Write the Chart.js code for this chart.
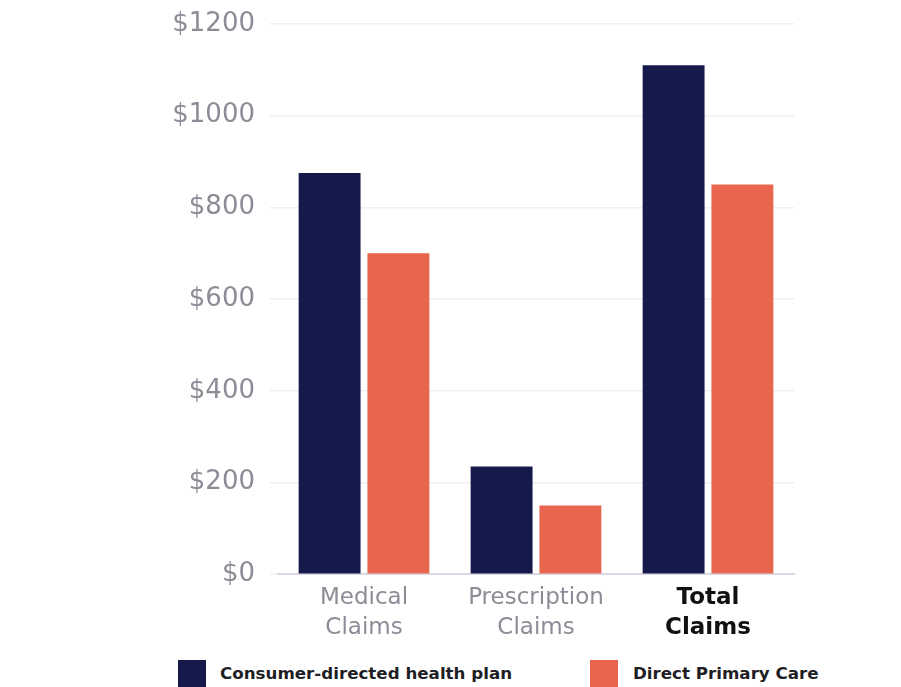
<!DOCTYPE html>
<html>
<head>
<meta charset="utf-8">
<script src="https://cdn.jsdelivr.net/npm/chart.js@4"></script>
<style>
  html, body { margin: 0; padding: 0; background: #fff; overflow: hidden; }
  #wrap { position: absolute; left: 0; top: 0; width: 901px; height: 660px; }
  #legend { position: absolute; left: 0; top: 660px; width: 901px; height: 40px; font-family: "DejaVu Sans", sans-serif; }
  .item { position: absolute; top: 0; height: 30px; }
  .box { position: absolute; left: 0; top: 0; width: 28px; height: 30px; }
  .txt { position: absolute; top: 3px; font-weight: bold; font-size: 16.7px; color: #1e1e24; white-space: nowrap; }
</style>
</head>
<body>
<div id="wrap"><canvas id="chart"></canvas></div>
<div id="legend"></div>
<script>
var categories = [['Medical', 'Claims'], ['Prescription', 'Claims'], ['Total', 'Claims']];
var seriesNames = ['Consumer-directed health plan', 'Direct Primary Care'];
var cdhpValues = [875, 235, 1110];
var dpcValues = [700, 150, 850];
var yTicks = [0, 200, 400, 600, 800, 1000, 1200];

var navy = '#151a4b';
var coral = '#e7664d';

var ctx = document.getElementById('chart');

var chart = new Chart(ctx, {
  type: 'bar',
  data: {
    labels: categories,
    datasets: [
      {
        label: seriesNames[0],
        data: cdhpValues,
        backgroundColor: navy,
        categoryPercentage: 0.8,
        barPercentage: 0.9
      },
      {
        label: seriesNames[1],
        data: dpcValues,
        backgroundColor: coral,
        categoryPercentage: 0.8,
        barPercentage: 0.9
      }
    ]
  },
  options: {
    responsive: true,
    maintainAspectRatio: false,
    animation: false,
    layout: {
      padding: { left: 0, right: 107, top: 24, bottom: 8 }
    },
    plugins: {
      legend: { display: false },
      tooltip: { enabled: false }
    },
    scales: {
      x: {
        grid: { display: false, drawTicks: false },
        border: { display: true, color: '#d9d9e6', width: 2 },
        ticks: {
          padding: 9,
          maxRotation: 0,
          font: function(c) {
            var last = c.index === categories.length - 1;
            return { family: 'DejaVu Sans', size: 23, weight: last ? 'bold' : 'normal', lineHeight: 1.3 };
          },
          color: function(c) {
            return c.index === categories.length - 1 ? '#111111' : '#8c8c96';
          }
        }
      },
      y: {
        min: 0,
        max: 1200,
        afterFit: function(axis) {
          axis.width = 278;
          axis.paddingTop = 0;
          axis.paddingBottom = 0;
        },
        afterBuildTicks: function(axis) {
          axis.ticks = yTicks.map(function(v) { return { value: v }; });
        },
        grid: { color: '#efeff3', lineWidth: 1.5, drawTicks: true, tickLength: 8 },
        border: { display: false },
        ticks: {
          padding: 15,
          color: '#8c8c96',
          font: { family: 'DejaVu Sans', size: 26 },
          callback: function(value) {
            return '$' + value;
          }
        }
      }
    }
  }
});

// legend drawn as html under the canvas
var legendEl = document.getElementById('legend');
var legendX = [178, 590];
chart.data.datasets.forEach(function(ds, i) {
  var item = document.createElement('div');
  item.className = 'item';
  item.style.left = legendX[i] + 'px';

  var box = document.createElement('div');
  box.className = 'box';
  box.style.background = ds.backgroundColor;
  item.appendChild(box);

  var txt = document.createElement('div');
  txt.className = 'txt';
  txt.style.left = (i === 0 ? 42 : 43) + 'px';
  txt.textContent = ds.label;
  item.appendChild(txt);

  legendEl.appendChild(item);
});
</script>
</body>
</html>
